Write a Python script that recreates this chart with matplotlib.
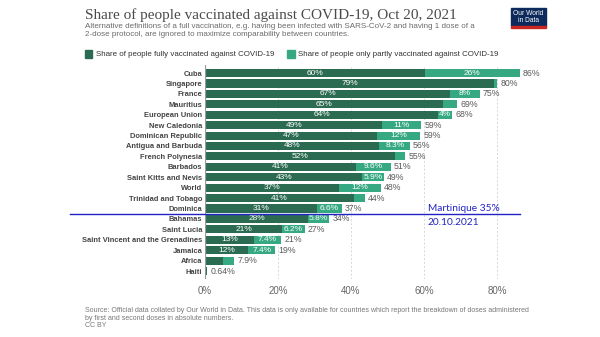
import matplotlib.pyplot as plt
from matplotlib.patches import Rectangle

countries = ["Cuba", "Singapore", "France", "Mauritius", "European Union",
             "New Caledonia", "Dominican Republic", "Antigua and Barbuda",
             "French Polynesia", "Barbados", "Saint Kitts and Nevis", "World",
             "Trinidad and Tobago", "Dominica", "Bahamas", "Saint Lucia",
             "Saint Vincent and the Grenadines", "Jamaica", "Africa", "Haiti"]
fully = [60.2, 79.2, 67.2, 65.2, 63.8, 48.6, 47.0, 47.8, 52.0, 41.3,
         43.1, 36.6, 40.9, 30.8, 28.2, 21.1, 13.4, 11.9, 5.0, 0.5]
partly = [26.0, 0.9, 8.0, 3.8, 4.0, 10.6, 11.9, 8.3, 2.9, 9.6,
          5.9, 11.6, 2.9, 6.6, 5.8, 6.2, 7.4, 7.4, 2.9, 0.14]
xticks = [0, 20, 40, 60, 80]

martinique_row = 13.5
martinique_text = ["Martinique 35%", "20.10.2021"]

dark = "#2b6b52"
light = "#36a882"
blue = "#2121c8"
sans = "Liberation Sans"


def pct(v):
    return f"{v:.2g}%"


fig = plt.figure(figsize=(6, 3.37), dpi=100, facecolor="white")
ax = fig.add_axes([0.3417, 0.171, 0.5475, 0.637])

y = list(range(len(countries)))
h = 0.78
ax.barh(y, fully, height=h, color=dark, edgecolor="none", zorder=2)
ax.barh(y, partly, left=fully, height=h, color=light, edgecolor="none", zorder=2)

for i, (f, p) in enumerate(zip(fully, partly)):
    if f >= 10:
        ax.text(f / 2, i, pct(f), ha="center", va="center", color="white",
                fontsize=6, family=sans, zorder=3)
    if p >= 4:
        ax.text(f + p / 2, i, pct(p), ha="center", va="center", color="white",
                fontsize=6, family=sans, zorder=3)
    ax.text(f + p + 0.9, i, pct(f + p), ha="left", va="center", color="#5b5b5b",
            fontsize=6.3, family=sans)

ax.set_xlim(0, 90)
ax.set_ylim(19.8, -0.8)
ax.set_yticks(y)
ax.set_yticklabels(countries, fontsize=5.4, fontweight="bold", color="#444444",
                   family=sans)
ax.set_xticks(xticks)
ax.set_xticklabels([f"{t}%" for t in xticks], fontsize=7, color="#666666",
                   family=sans)
ax.tick_params(length=0, axis="y", pad=2)
ax.tick_params(length=0, axis="x", pad=5)
for s in ax.spines.values():
    s.set_visible(False)
for t in xticks[1:]:
    ax.axvline(t, color="#d8d8d8", lw=0.7, ls=(0, (2, 2)), zorder=1)
ax.axvline(0, color="#999999", lw=0.9, zorder=4)

# Martinique reference line and note
ax.plot([-37, 86.3], [martinique_row, martinique_row], color=blue, lw=1.0,
        clip_on=False, zorder=5)
ax.text(61, martinique_row - 0.5, martinique_text[0], color=blue, fontsize=7.3,
        family="Lato", va="center", ha="left")
ax.text(61, martinique_row + 0.85, martinique_text[1], color=blue, fontsize=7.3,
        family="Lato", va="center", ha="left")

# header
fig.text(0.141, 0.955, "Share of people vaccinated against COVID-19, Oct 20, 2021",
         fontsize=11, family="Liberation Serif", color="#4a4a4a", va="center")
fig.text(0.142, 0.921,
         "Alternative definitions of a full vaccination, e.g. having been infected with SARS-CoV-2 and having 1 dose of a",
         fontsize=5.8, family=sans, color="#6b6b6b", va="center")
fig.text(0.142, 0.898,
         "2-dose protocol, are ignored to maximize comparability between countries.",
         fontsize=5.8, family=sans, color="#6b6b6b", va="center")

# legend
leg_y = 0.839
fig.add_artist(Rectangle((0.141, leg_y - 0.012), 0.013, 0.024, color=dark,
                         transform=fig.transFigure))
fig.text(0.16, leg_y, "Share of people fully vaccinated against COVID-19",
         fontsize=5.7, family=sans, color="#333333", va="center")
fig.add_artist(Rectangle((0.478, leg_y - 0.012), 0.013, 0.024, color=light,
                         transform=fig.transFigure))
fig.text(0.496, leg_y, "Share of people only partly vaccinated against COVID-19",
         fontsize=5.7, family=sans, color="#333333", va="center")

# logo
fig.add_artist(Rectangle((0.852, 0.923), 0.058, 0.053, color="#0d2a5c",
                         transform=fig.transFigure))
fig.add_artist(Rectangle((0.852, 0.918), 0.058, 0.006, color="#c8261e",
                         transform=fig.transFigure))
fig.text(0.881, 0.950, "Our World\nin Data", fontsize=4.8, family=sans,
         color="white", ha="center", va="center", linespacing=1.0)

# footer
fig.text(0.142, 0.080,
         "Source: Official data collated by Our World in Data. This data is only available for countries which report the breakdown of doses administered",
         fontsize=5.0, family=sans, color="#777777", va="center")
fig.text(0.142, 0.056, "by first and second doses in absolute numbers.",
         fontsize=5.0, family=sans, color="#777777", va="center")
fig.text(0.142, 0.033, "CC BY", fontsize=5.0, family=sans, color="#777777",
         va="center")

fig.savefig("out.png", dpi=100, facecolor="white")
